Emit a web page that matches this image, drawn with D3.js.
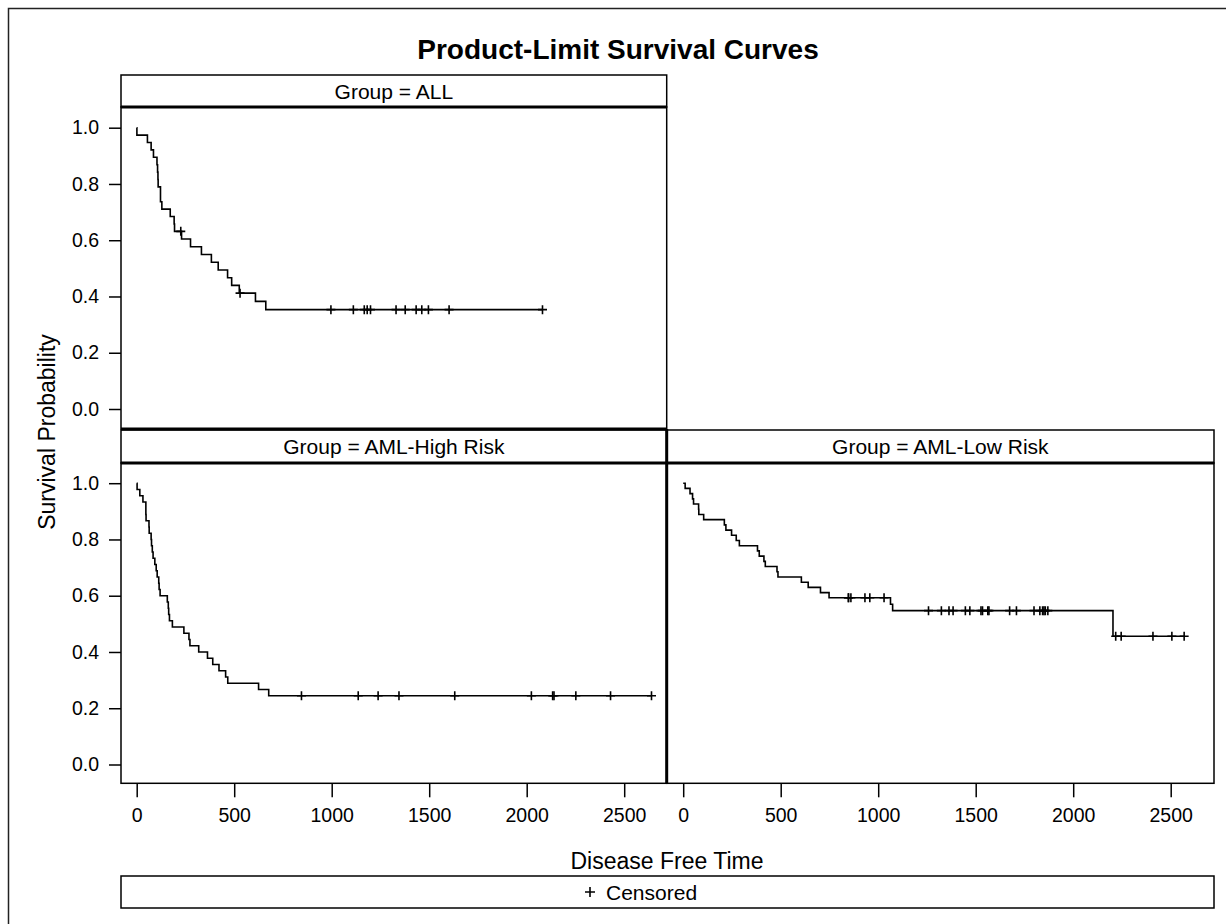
<!DOCTYPE html>
<html>
<head>
<meta charset="utf-8">
<script src="https://cdn.jsdelivr.net/npm/d3@7"></script>
<style>
  html, body { margin: 0; padding: 0; background: #fff; }
  svg { display: block; }
  text { font-family: "Liberation Sans", Arial, sans-serif; fill: #000; }
</style>
</head>
<body>
<svg id="chart" width="1226" height="924"></svg>
<script>
// ---------------- DATA ----------------
const titleText = "Product-Limit Survival Curves";
const xLabel = "Disease Free Time";
const yLabel = "Survival Probability";
const legendLabel = "Censored";
const groupNames = ["ALL", "AML-High Risk", "AML-Low Risk"];
const xTicks = [0, 500, 1000, 1500, 2000, 2500];
const yTicks = [0.0, 0.2, 0.4, 0.6, 0.8, 1.0];

// Group = ALL : step times and survival estimates
const allTimes = [0,1,55,74,86,104,107,109,110,122,129,172,192,194,230,276,332,383,418,466,487,526,609,662];
const allSurv  = [1,0.9737,0.9474,0.9211,0.8947,0.8684,0.8421,0.8158,0.7895,0.7368,0.7105,0.6842,0.6579,0.6316,0.6041,0.5767,0.5492,0.5217,0.4943,0.4668,0.4394,0.4119,0.3825,0.3531];
const allCensTimes = [226,530,996,1111,1167,1182,1199,1330,1377,1433,1462,1496,1602,2081];
const allCensSurv  = [0.6316,0.4119,0.3531,0.3531,0.3531,0.3531,0.3531,0.3531,0.3531,0.3531,0.3531,0.3531,0.3531,0.3531];

// Group = AML-High Risk
const highTimes = [0,2,16,32,47,48,63,64,74,76,80,84,93,100,105,113,115,120,157,162,164,168,183,242,268,273,318,363,390,422,456,467,625,677];
const highSurv  = [1,0.9778,0.9556,0.9333,0.8889,0.8667,0.8444,0.8222,0.8,0.7778,0.7556,0.7333,0.7111,0.6889,0.6667,0.6444,0.6222,0.6,0.5778,0.5556,0.5333,0.5111,0.4889,0.4667,0.4444,0.4222,0.4,0.3778,0.3556,0.3333,0.3111,0.2889,0.2667,0.2444];
const highCensTimes = [845,1136,1238,1345,1631,2024,2133,2140,2252,2430,2640];
const highCensSurv  = [0.2444,0.2444,0.2444,0.2444,0.2444,0.2444,0.2444,0.2444,0.2444,0.2444,0.2444];

// Group = AML-Low Risk
const lowTimes = [0,10,35,48,53,79,80,105,211,219,248,272,288,381,390,414,421,481,486,606,641,704,748,1063,1074,2204];
const lowSurv  = [1,0.9815,0.9630,0.9444,0.9259,0.9074,0.8889,0.8704,0.8519,0.8333,0.8148,0.7963,0.7778,0.7593,0.7407,0.7222,0.7037,0.6852,0.6667,0.6481,0.6296,0.6111,0.5926,0.5698,0.5470,0.4558];
const lowCensTimes = [847,848,860,932,957,1030,1258,1324,1363,1384,1447,1470,1527,1535,1562,1568,1674,1709,1799,1829,1843,1850,1857,1870,2218,2246,2409,2506,2569];
const lowCensSurv  = [0.5926,0.5926,0.5926,0.5926,0.5926,0.5926,
  0.5470,0.5470,0.5470,0.5470,0.5470,0.5470,0.5470,0.5470,0.5470,0.5470,0.5470,0.5470,0.5470,0.5470,0.5470,0.5470,0.5470,0.5470,
  0.4558,0.4558,0.4558,0.4558,0.4558];

// ---------------- LAYOUT ----------------
const svg = d3.select("#chart");
svg.append("rect").attr("width", 1226).attr("height", 924).attr("fill", "#fff");
// outer frame (right/bottom edges fall outside the picture)
svg.append("rect").attr("x", 8.5).attr("y", 8.5).attr("width", 1400).attr("height", 1100)
  .attr("fill", "none").attr("stroke", "#222").attr("stroke-width", 1.5);

const colL = { x0: 121, x1: 666.7, zero: 136.7, end: 624.2 };
const colR = { x0: 666.7, x1: 1214, zero: 683.2, end: 1170.7 };
const rowT = { hTop: 75, pTop: 107, pBot: 429, one: 127.7, zero: 409 };
const rowB = { hTop: 430, pTop: 463, pBot: 783.3, one: 483.2, zero: 764.5 };

const panels = [
  { name: groupNames[0], col: colL, row: rowT, times: allTimes, surv: allSurv, ct: allCensTimes, cs: allCensSurv, yAxis: true, xAxis: false },
  { name: groupNames[1], col: colL, row: rowB, times: highTimes, surv: highSurv, ct: highCensTimes, cs: highCensSurv, yAxis: true, xAxis: true },
  { name: groupNames[2], col: colR, row: rowB, times: lowTimes, surv: lowSurv, ct: lowCensTimes, cs: lowCensSurv, yAxis: false, xAxis: true }
];

const tickFont = 19.5;
const headFont = 21;
const plusPath = (s) => `M${-s},0H${s}M0,${-s}V${s}`;

panels.forEach(p => {
  const x = d3.scaleLinear().domain([0, 2500]).range([p.col.zero, p.col.end]);
  const y = d3.scaleLinear().domain([0, 1]).range([p.row.zero, p.row.one]);
  const g = svg.append("g");

  // header
  g.append("rect").attr("x", p.col.x0).attr("y", p.row.hTop)
    .attr("width", p.col.x1 - p.col.x0).attr("height", p.row.pTop - p.row.hTop)
    .attr("fill", "#fff").attr("stroke", "#000").attr("stroke-width", 1.5);
  g.append("text").attr("x", (p.col.x0 + p.col.x1) / 2).attr("y", p.row.hTop + 23.5)
    .attr("text-anchor", "middle").attr("font-size", headFont).text("Group = " + p.name);

  // plot frame
  g.append("rect").attr("x", p.col.x0).attr("y", p.row.pTop)
    .attr("width", p.col.x1 - p.col.x0).attr("height", p.row.pBot - p.row.pTop)
    .attr("fill", "none").attr("stroke", "#000").attr("stroke-width", 1.5);
  // thick line under header
  g.append("line").attr("x1", p.col.x0).attr("x2", p.col.x1)
    .attr("y1", p.row.pTop).attr("y2", p.row.pTop)
    .attr("stroke", "#000").attr("stroke-width", 3);

  // step curve
  const pts = p.times.map((t, i) => [t, p.surv[i]]);
  const tEnd = d3.max(p.ct);
  pts.push([tEnd, p.surv[p.surv.length - 1]]);
  const line = d3.line().x(d => x(d[0])).y(d => y(d[1])).curve(d3.curveStepAfter);
  g.append("path").attr("d", line(pts)).attr("fill", "none")
    .attr("stroke", "#000").attr("stroke-width", 1.6);

  // censored markers
  g.selectAll(null).data(p.ct.map((t, i) => [t, p.cs[i]])).join("path")
    .attr("transform", d => `translate(${x(d[0])},${y(d[1])})`)
    .attr("d", plusPath(4.5)).attr("fill", "none")
    .attr("stroke", "#000").attr("stroke-width", 1.6);

  if (p.yAxis) {
    const ya = g.append("g").attr("transform", `translate(${p.col.x0},0)`)
      .call(d3.axisLeft(y).tickValues(yTicks).tickSize(12).tickPadding(10).tickFormat(d3.format(".1f")));
    ya.select(".domain").remove();
    ya.selectAll(".tick line").attr("stroke", "#000").attr("stroke-width", 1.5);
    ya.selectAll(".tick text").attr("font-size", tickFont).attr("font-family", "Liberation Sans, Arial, sans-serif").attr("fill", "#000");
  }
  if (p.xAxis) {
    const xa = g.append("g").attr("transform", `translate(0,${p.row.pBot})`)
      .call(d3.axisBottom(x).tickValues(xTicks).tickSize(14).tickPadding(11).tickFormat(d3.format("d")));
    xa.select(".domain").remove();
    xa.selectAll(".tick line").attr("stroke", "#000").attr("stroke-width", 1.5);
    xa.selectAll(".tick text").attr("font-size", tickFont).attr("font-family", "Liberation Sans, Arial, sans-serif").attr("fill", "#000");
  }
});

// thick separators
svg.append("line").attr("x1", colL.x0).attr("x2", colL.x1).attr("y1", 429).attr("y2", 429)
  .attr("stroke", "#000").attr("stroke-width", 3);
svg.append("line").attr("x1", colL.x1).attr("x2", colL.x1).attr("y1", 429).attr("y2", rowB.pBot)
  .attr("stroke", "#000").attr("stroke-width", 3);

// title
svg.append("text").attr("x", 618).attr("y", 59).attr("text-anchor", "middle")
  .attr("font-size", 28).attr("font-weight", "bold").text(titleText);

// axis labels
svg.append("text").attr("x", 667).attr("y", 869).attr("text-anchor", "middle")
  .attr("font-size", 23).text(xLabel);
svg.append("text").attr("transform", "translate(55,432) rotate(-90)").attr("text-anchor", "middle")
  .attr("font-size", 23).text(yLabel);

// legend
svg.append("rect").attr("x", 121).attr("y", 876).attr("width", 1214 - 121).attr("height", 32)
  .attr("fill", "none").attr("stroke", "#000").attr("stroke-width", 1.5);
const lg = svg.append("g").attr("transform", "translate(0,892)");
lg.append("path").attr("d", plusPath(5)).attr("transform", "translate(590,0)")
  .attr("fill", "none").attr("stroke", "#000").attr("stroke-width", 1.6);
lg.append("text").attr("x", 606).attr("y", 7.5).attr("font-size", headFont).text(legendLabel);
</script>
</body>
</html>
